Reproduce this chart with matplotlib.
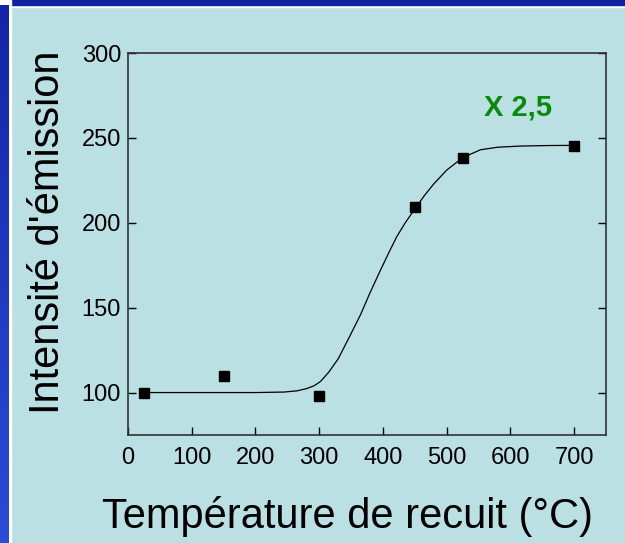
import numpy as np
import matplotlib
matplotlib.use("Agg")
import matplotlib.pyplot as plt

plt.rcParams['font.family'] = ['Liberation Sans', 'DejaVu Sans']

# measured points
temp = [25, 150, 300, 450, 525, 700]
intensity = [100, 110, 98, 209, 238, 245.5]

# fitted curve
curve_t = [25, 100, 200, 245, 265, 280, 292, 302, 315, 330, 345, 365, 380, 396,
           410, 422, 435, 448, 465, 480, 500, 517, 535, 553, 580, 616, 660, 700]
curve_i = [100, 100, 100, 100.3, 101, 102.3, 104, 106.5, 112, 120, 131, 146, 159, 172,
           183, 192, 200, 207, 216, 223, 231, 236, 240, 243, 244.5, 245.2, 245.5, 245.6]

xticks = [0, 100, 200, 300, 400, 500, 600, 700]
yticks = [100, 150, 200, 250, 300]

panel = '#bae0e3'

fig = plt.figure(figsize=(6.25, 5.43), dpi=100, facecolor=panel)

# blue frame on top and left, with thin white edge
W, H = 625.0, 543.0
fig.patches.append(plt.Rectangle((0, 1 - 6.5 / H), 1, 6.5 / H, transform=fig.transFigure,
                                 color='white', zorder=0))
fig.patches.append(plt.Rectangle((0, 1 - 5 / H), 1, 5 / H, transform=fig.transFigure,
                                 color='#1020a0', zorder=0))
fig.patches.append(plt.Rectangle((0, 0), 10.5 / W, 1, transform=fig.transFigure,
                                 color='white', zorder=0))
gax = fig.add_axes([0, 0, 8.5 / W, 1 - 5 / H], zorder=2)
grad = np.linspace(0, 1, 256).reshape(-1, 1)
cmap = matplotlib.colors.LinearSegmentedColormap.from_list('b', ['#2a4cd8', '#1424a8'])
gax.imshow(grad, aspect='auto', cmap=cmap, origin='lower')
gax.axis('off')

ax = fig.add_axes([128 / W, 108 / H, 478 / W, 382 / H])
ax.set_facecolor(panel)
ax.plot(curve_t, curve_i, color='black', lw=0.9)
ax.plot(temp, intensity, 's', color='black', ms=7.5)

ax.set_xlim(0, 750)
ax.set_ylim(75, 300)
ax.set_xticks(xticks)
ax.set_yticks(yticks)
ax.tick_params(axis='x', direction='in', length=6, width=1, pad=9, labelsize=17)
ax.tick_params(axis='y', direction='in', length=6, width=1, pad=5, labelsize=17,
               right=True)
for s in ax.spines.values():
    s.set_color('#333333')
    s.set_linewidth(1.2)

ax.text(612, 268, 'X 2,5', color='#0a8a0a', fontsize=21, fontweight='bold',
        ha='center', va='center')

fig.text(348 / W, (543 - 528) / H, 'Température de recuit (°C)', fontsize=30,
         ha='center', va='baseline')
fig.text(48 / W, (543 - 232) / H, "Intensité d'émission", fontsize=30,
         rotation=90, ha='center', va='center')

plt.savefig('out.png', dpi=100, facecolor=panel)
